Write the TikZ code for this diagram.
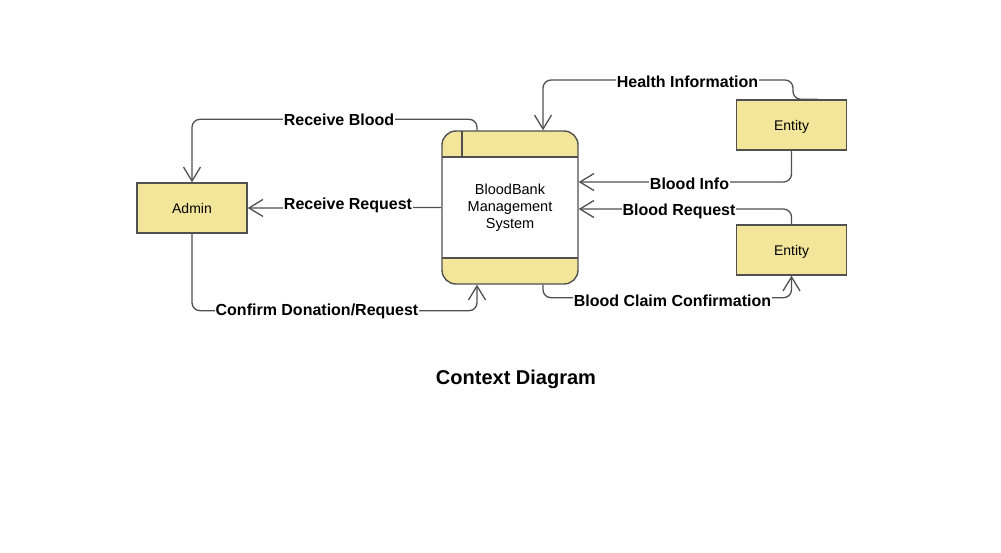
\documentclass[tikz,border=0pt]{standalone}
\usepackage{fontspec}
\setmainfont{Liberation Sans}
\usetikzlibrary{arrows.meta,calc}
\definecolor{boxfill}{RGB}{243,230,155}
\definecolor{edge}{RGB}{80,80,80}
\begin{document}
\begin{tikzpicture}[x=1pt,y=-1pt,
 entbox/.style={draw=edge, line width=1.4pt, fill=boxfill, minimum width=110pt, minimum height=50pt, inner sep=0pt, text height=10pt, text depth=0pt, font=\fontsize{14}{16}\selectfont},
 flow/.style={draw=edge, line width=1.3pt, rounded corners=8pt, -{Straight Barb[length=14pt,width=17pt]}},
 lbl/.style={fill=white, inner sep=1pt, font=\fontsize{16}{18}\selectfont\bfseries},
]
\useasboundingbox[fill=white] (0,0) rectangle (1001,552);

\node[draw=edge, line width=1.4pt, rounded corners=14pt, minimum width=136pt, minimum height=153pt,
  inner sep=0pt, fill=white, align=center, font=\fontsize{14.5}{17}\selectfont,
  path picture={
    \fill[boxfill, sharp corners] (path picture bounding box.north west) rectangle ([yshift=-26pt]path picture bounding box.north east);
    \fill[boxfill, sharp corners] (path picture bounding box.south west) rectangle ([yshift=26pt]path picture bounding box.south east);
    \draw[edge, line width=1.4pt, sharp corners] ([yshift=-26pt]path picture bounding box.north west) -- ([yshift=-26pt]path picture bounding box.north east);
    \draw[edge, line width=1.4pt, sharp corners] ([yshift=26pt]path picture bounding box.south west) -- ([yshift=26pt]path picture bounding box.south east);
    \draw[edge, line width=1.4pt, sharp corners] ([xshift=20pt]path picture bounding box.north west) -- ([xshift=20pt,yshift=-26pt]path picture bounding box.north west);
  }] (proc) at (510,207.5) {BloodBank\\Management\\System};

\node[entbox] (admin) at (192,208) {Admin};
\node[entbox] (e1) at (791.5,125) {Entity};
\node[entbox] (e2) at (791.5,250) {Entity};

\draw[flow] ([xshift=26pt]e1.north) -| (793,80) -| ([xshift=33pt]proc.north);
\draw[flow] ([xshift=-33pt]proc.north) -- ++(0,-11) -| (admin.north);
\draw[flow] (proc.west) -- (admin.east);
\draw[flow] (admin.south) |- ($([xshift=-33pt]proc.south)+(0,26)$) -- ([xshift=-33pt]proc.south);
\draw[flow] (e1.south) |- (proc.east |- 0,182);
\draw[flow] (e2.north) |- (proc.east |- 0,209);
\draw[flow] ([xshift=33pt]proc.south) |- ($(e2.south)+(0,22)$) -- (e2.south);

\node[lbl] (lhealth) at (687.5,82) {Health Information};
\node[lbl] (lrblood) at (339,120) {Receive Blood};
\node[lbl] (lrreq) at (348,205) {Receive Request};
\node[lbl] (lconf) at (317,311) {Confirm Donation/Request};
\node[lbl] (linfo) at (689.5,184) {Blood Info};
\node[lbl] (lbreq) at (679,211) {Blood Request};
\node[lbl] (lclaim) at (672.5,301) {Blood Claim Confirmation};

\node[font=\fontsize{20}{24}\selectfont\bfseries] (title) at (516,379) {Context Diagram};
\end{tikzpicture}
\end{document}
